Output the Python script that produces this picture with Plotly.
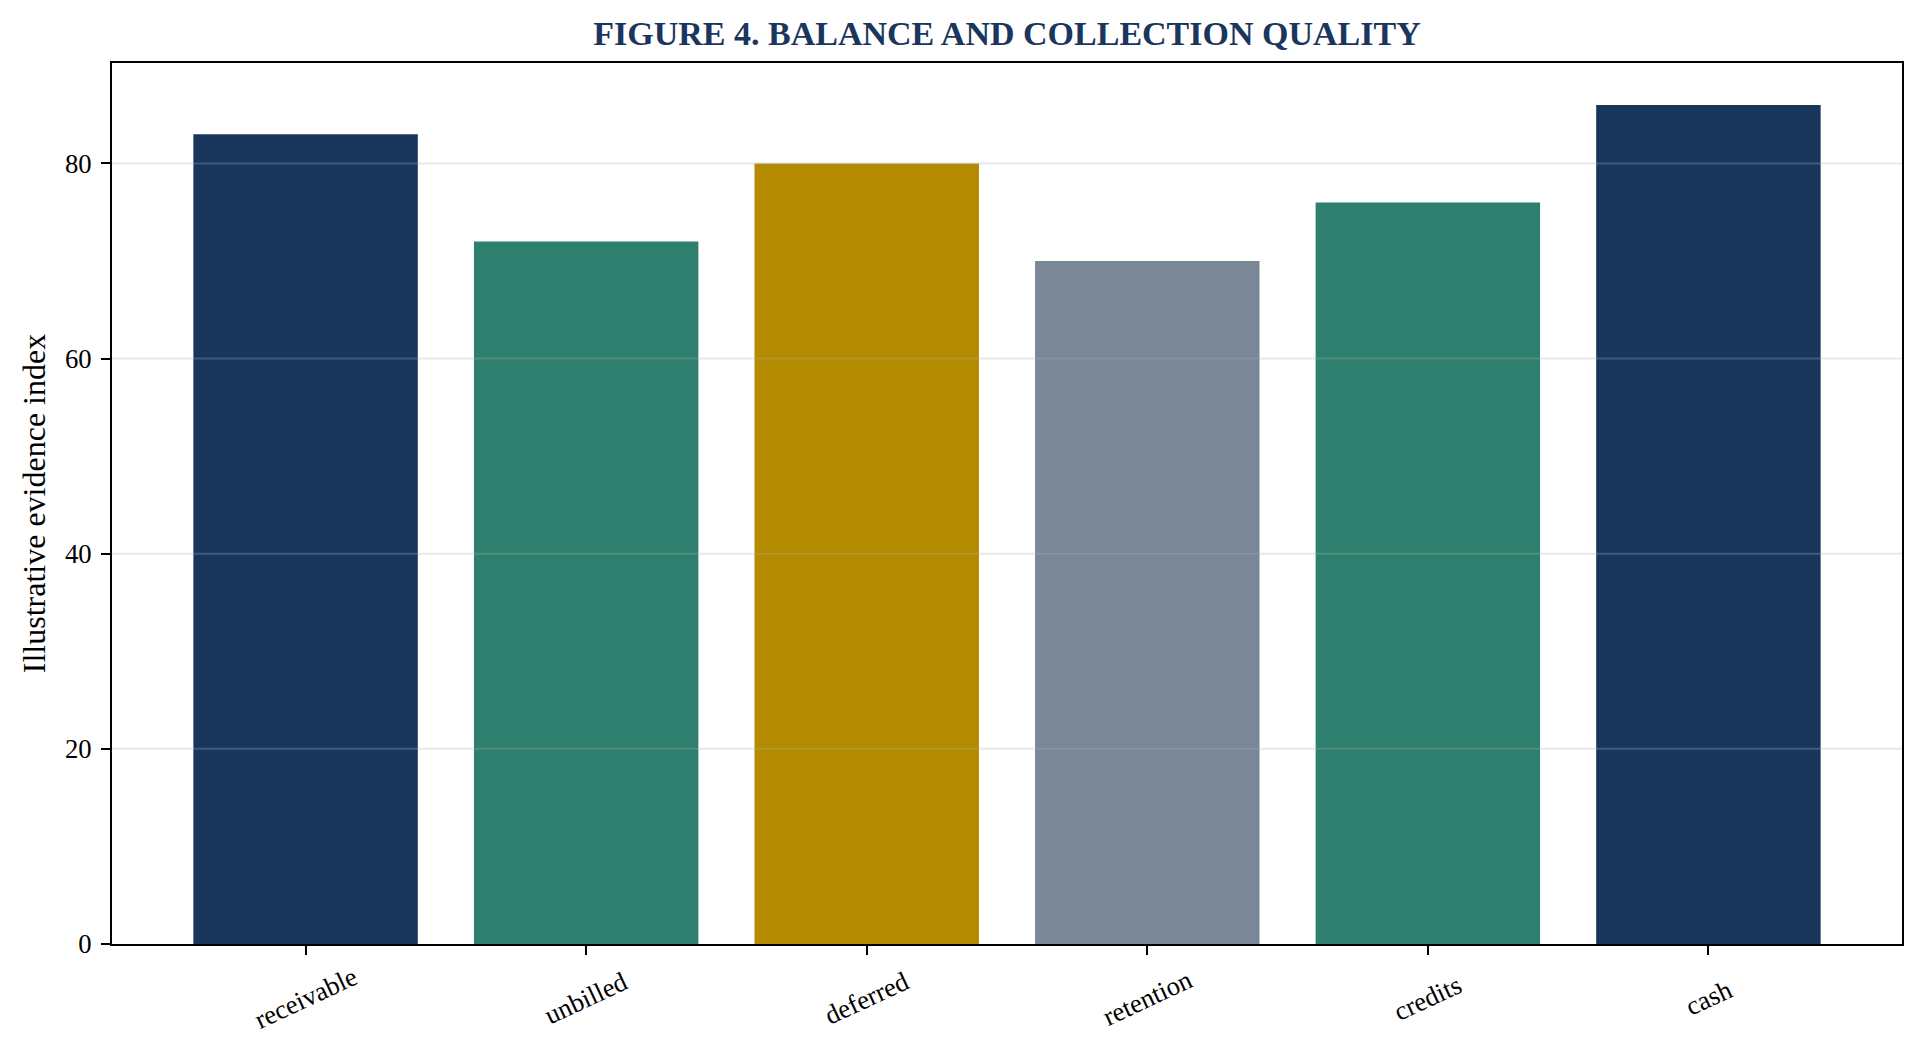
import plotly.graph_objects as go

# values
categories = ["receivable", "unbilled", "deferred", "retention", "credits", "cash"]
index_values = [83, 72, 80, 70, 76, 86]
bar_colors = ["#18365c", "#2e7f6e", "#b38a00", "#7a8797", "#2e7f6e", "#18365c"]
y_ticks = [0, 20, 40, 60, 80]

FONT = "Liberation Serif"
NAVY = "#1b365d"

fig = go.Figure()
fig.add_trace(go.Bar(
    x=categories,
    y=index_values,
    marker=dict(color=bar_colors, line=dict(width=0)),
    width=0.8,
    showlegend=False,
    hoverinfo="x+y",
))

# gridlines drawn above the bars, like the original
for v in y_ticks[1:]:
    fig.add_shape(type="line", xref="paper", yref="y", x0=0, x1=1, y0=v, y1=v,
                  line=dict(color="rgba(176,176,176,0.28)", width=2), layer="above")

# rotated category labels centred under each tick
for c in categories:
    fig.add_annotation(x=c, y=0, xref="x", yref="paper", yshift=-54,
                       text=c, showarrow=False, textangle=-25,
                       xanchor="center", yanchor="middle",
                       font=dict(family=FONT, size=26.7, color="black"))

fig.update_layout(
    width=1924, height=1054,
    margin=dict(l=112, r=22, t=63, b=110),
    paper_bgcolor="white", plot_bgcolor="white",
    font=dict(family=FONT, size=26.7, color="black"),
    title=dict(text="<b>FIGURE 4. BALANCE AND COLLECTION QUALITY</b>",
               font=dict(family=FONT, size=34, color=NAVY),
               xref="paper", x=0.5, xanchor="center",
               yref="container", y=1 - 33.5 / 1054, yanchor="middle"),
    bargap=0.2,
)

fig.update_xaxes(
    type="category", range=[-0.69, 5.69],
    showgrid=False, showline=True, linecolor="black", linewidth=2, mirror=True,
    ticks="outside", ticklen=9, tickwidth=2, tickcolor="black",
    showticklabels=False, zeroline=False,
)
fig.update_yaxes(
    range=[0, 90.3], tickvals=y_ticks,
    showgrid=False, showline=True, linecolor="black", linewidth=2, mirror=True,
    ticks="outside", ticklen=9, tickwidth=2, tickcolor="black",
    ticklabelstandoff=4, zeroline=False,
    title=dict(text="Illustrative evidence index", standoff=10,
               font=dict(family=FONT, size=32, color="black")),
)

fig.write_html("out.html", config={"displayModeBar": False},
               post_script="document.body.style.margin='0px';")
